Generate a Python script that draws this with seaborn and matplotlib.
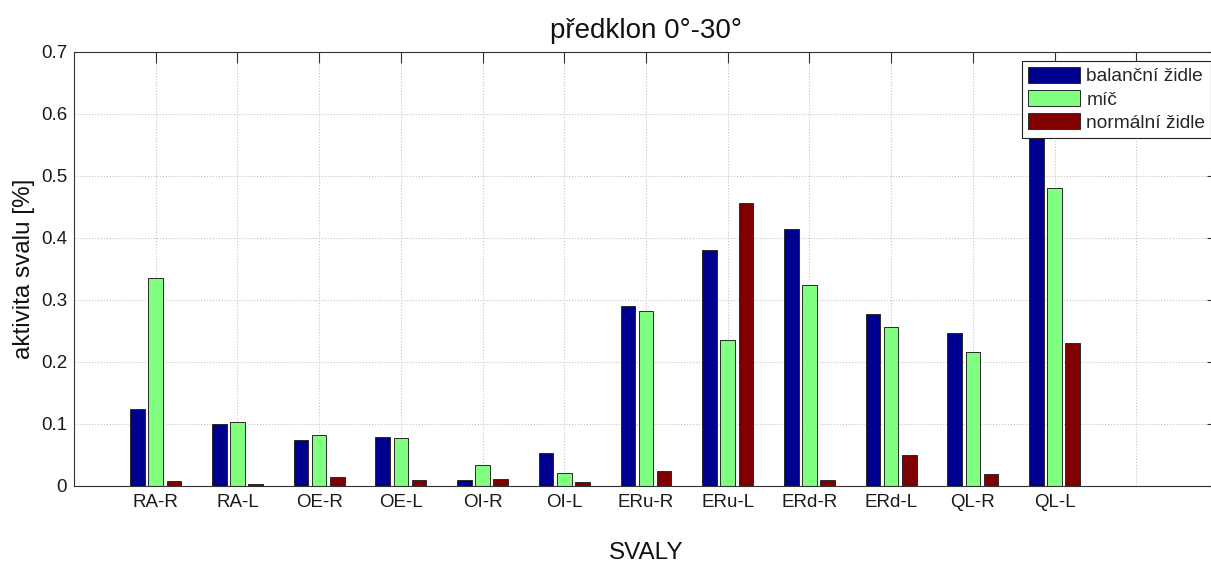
import numpy as np
import pandas as pd
import matplotlib
matplotlib.use("Agg")
import matplotlib.pyplot as plt
import seaborn as sns

# ---- data ----
categories = ["RA-R", "RA-L", "OE-R", "OE-L", "OI-R", "OI-L",
              "ERu-R", "ERu-L", "ERd-R", "ERd-L", "QL-R", "QL-L"]
series_names = ["balanční židle", "míč", "normální židle"]
balancni_zidle = [0.124, 0.100, 0.074, 0.079, 0.009, 0.054,
                  0.291, 0.381, 0.415, 0.278, 0.247, 0.620]
mic = [0.335, 0.103, 0.082, 0.078, 0.034, 0.021,
       0.282, 0.236, 0.324, 0.257, 0.216, 0.481]
normalni_zidle = [0.008, 0.004, 0.014, 0.009, 0.011, 0.007,
                  0.025, 0.457, 0.010, 0.050, 0.020, 0.230]
y_ticks = [0, 0.1, 0.2, 0.3, 0.4, 0.5, 0.6, 0.7]
y_tick_labels = ["0", "0.1", "0.2", "0.3", "0.4", "0.5", "0.6", "0.7"]
title = "předklon 0°-30°"
x_label = "SVALY"
y_label = "aktivita svalu [%]"
colors = ["#00008F", "#80FF80", "#800000"]

rows = []
for name, vals in zip(series_names, [balancni_zidle, mic, normalni_zidle]):
    for c, v in zip(categories, vals):
        rows.append({"sval": c, "serie": name, "value": v})
df = pd.DataFrame(rows)

sns.set_style("white")
plt.rcParams["font.family"] = ["Liberation Sans", "DejaVu Sans"]

W, H = 1211, 564
fig = plt.figure(figsize=(W / 100, H / 100), dpi=100)
ax = fig.add_axes([74 / W, 1 - 486 / H, (1218 - 74) / W, (486 - 52) / H])

sns.barplot(data=df, x="sval", y="value", hue="serie", order=categories,
            hue_order=series_names, palette=colors, saturation=1,
            width=0.667, gap=0.2, edgecolor="#2a2a2a", linewidth=0.7,
            errorbar=None, ax=ax)

ax.set_xlim(-1, 13)
ax.set_xticks(range(len(categories) + 1))
ax.set_xticklabels(categories + [""])
ax.set_ylim(0, 0.7)
ax.set_yticks(y_ticks)
ax.set_yticklabels(y_tick_labels)

ax.tick_params(direction="in", length=8, width=0.8, top=True, right=True,
               labelsize=13.5, color="#333333", labelcolor="#1a1a1a")
ax.tick_params(axis="x", pad=6)
ax.tick_params(axis="y", pad=5)
ax.grid(True, linestyle=":", color="#c4c4c4", linewidth=0.8)
ax.set_axisbelow(True)
for s in ax.spines.values():
    s.set_visible(True)
    s.set_color("#333333")
    s.set_linewidth(0.8)

ax.set_title(title, fontsize=20, pad=10, color="#111111")
ax.set_xlabel(x_label, fontsize=17.5, labelpad=22, color="#111111")
ax.set_ylabel(y_label, fontsize=17.5, labelpad=4, color="#111111")

handles, labels = ax.get_legend_handles_labels()
leg = ax.legend(handles, labels, loc="upper left",
                bbox_to_anchor=(1022 / W, 1 - 61 / H),
                bbox_transform=fig.transFigure, borderaxespad=0,
                fontsize=13.8, handlelength=2.7, handleheight=0.9,
                handletextpad=0.35, labelspacing=0.25, borderpad=0.3,
                fancybox=False, framealpha=1, edgecolor="#222222")
leg.get_frame().set_linewidth(0.8)

fig.savefig("out.png", dpi=100)
